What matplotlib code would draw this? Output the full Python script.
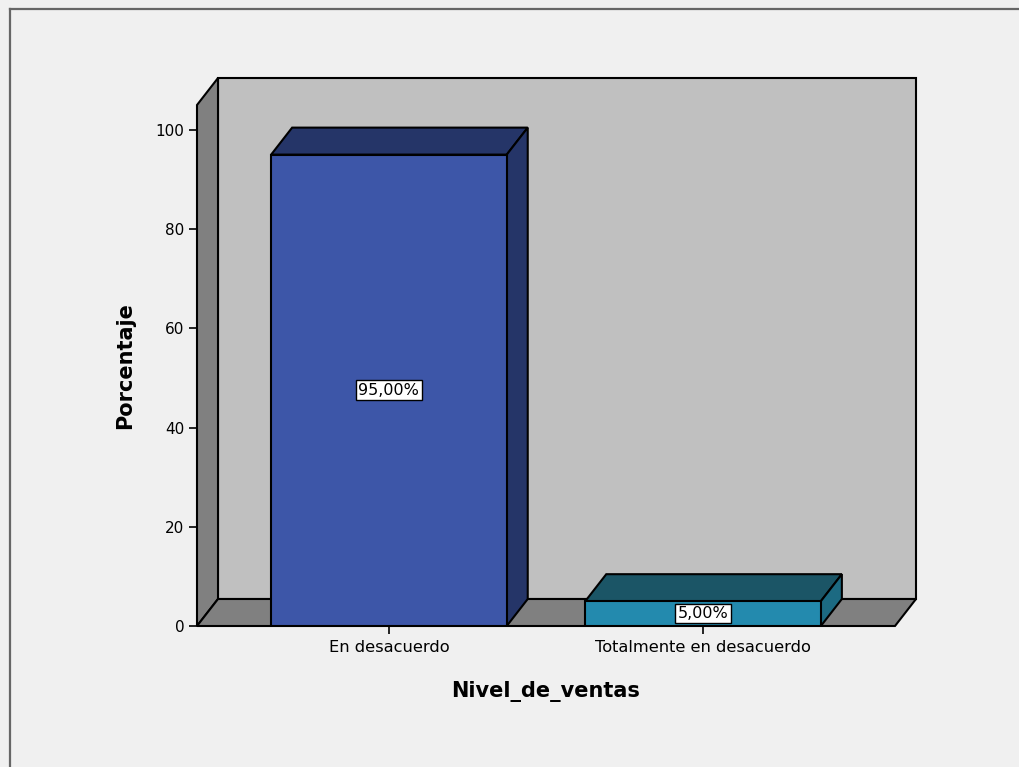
import numpy as np
import matplotlib.pyplot as plt
from matplotlib.patches import Polygon, Rectangle
from matplotlib.lines import Line2D

categories = ['En desacuerdo', 'Totalmente en desacuerdo']
percentages = [95.0, 5.0]
value_labels = ['95,00%', '5,00%']
yticks = [0, 20, 40, 60, 80, 100]

front_colors = ['#3d56a8', '#238aae']
top_colors = ['#253568', '#1b5566']
side_colors = ['#253568', '#1c6a82']

plt.rcParams['font.family'] = ['DejaVu Sans']

fig = plt.figure(figsize=(10.2, 7.67), dpi=100)
fig.patch.set_facecolor('#f0f0f0')

# frame lines of the output window (top and left)
fig.add_artist(Line2D([10.5 / 1020, 1], [1 - 8.5 / 767, 1 - 8.5 / 767], color='#666666', lw=1.6))
fig.add_artist(Line2D([10.5 / 1020, 10.5 / 1020], [0, 1 - 8.5 / 767], color='#666666', lw=1.6))

# front plane of the chart
left, right, bottom, top = 197, 895, 626, 105
ax = fig.add_axes([left / 1020, 1 - bottom / 767, (right - left) / 1020, (bottom - top) / 767])
ax.set_facecolor('none')

x = np.arange(len(categories))
width = 0.75
xmin, xmax = -0.611, 1.611
ymin, ymax = 0, 105
ax.set_xlim(xmin, xmax)
ax.set_ylim(ymin, ymax)

# depth offset in data units (about 21 px right, 27 px up)
px_x = (right - left) / (xmax - xmin)
px_y = (bottom - top) / (ymax - ymin)
dx = 21 / px_x
dy = 27 / px_y

edge = dict(edgecolor='black', linewidth=1.5, clip_on=False, joinstyle='miter')

# back wall
ax.add_patch(Rectangle((xmin + dx, ymin + dy), xmax - xmin, ymax - ymin,
                       facecolor='#c0c0c0', zorder=0, **edge))
# left wall
ax.add_patch(Polygon([(xmin, ymin), (xmin, ymax), (xmin + dx, ymax + dy), (xmin + dx, ymin + dy)],
                     facecolor='#808080', zorder=1, **edge))
# floor
ax.add_patch(Polygon([(xmin, ymin), (xmax, ymin), (xmax + dx, ymin + dy), (xmin + dx, ymin + dy)],
                     facecolor='#808080', zorder=1, **edge))

# bars: front faces
ax.bar(x, percentages, width=width, color=front_colors, edgecolor='black', linewidth=1.5, zorder=3)
for xi, val, tc, sc in zip(x, percentages, top_colors, side_colors):
    x0, x1 = xi - width / 2, xi + width / 2
    ax.add_patch(Polygon([(x0, val), (x1, val), (x1 + dx, val + dy), (x0 + dx, val + dy)],
                         facecolor=tc, zorder=2, **edge))
    ax.add_patch(Polygon([(x1, 0), (x1, val), (x1 + dx, val + dy), (x1 + dx, dy)],
                         facecolor=sc, zorder=2, **edge))

for xi, val, lab in zip(x, percentages, value_labels):
    ax.text(xi, val / 2, lab, ha='center', va='center', fontsize=11.5, zorder=5,
            bbox=dict(boxstyle='square,pad=0.15', facecolor='white', edgecolor='black', linewidth=1))

for s in ['top', 'right', 'left', 'bottom']:
    ax.spines[s].set_visible(False)

ax.set_yticks(yticks)
ax.set_yticklabels([str(t) for t in yticks], fontsize=11)
ax.set_xticks(x)
ax.set_xticklabels(categories, fontsize=11.7)
ax.tick_params(axis='y', length=6, width=1.2, pad=3)
ax.tick_params(axis='x', length=6, width=1.2, pad=4)

ax.set_ylabel('Porcentaje', fontsize=15, fontweight='bold', labelpad=15)
ax.set_xlabel('Nivel_de_ventas', fontsize=15, fontweight='bold', labelpad=19)

fig.savefig('out.png', dpi=100, facecolor=fig.get_facecolor())
